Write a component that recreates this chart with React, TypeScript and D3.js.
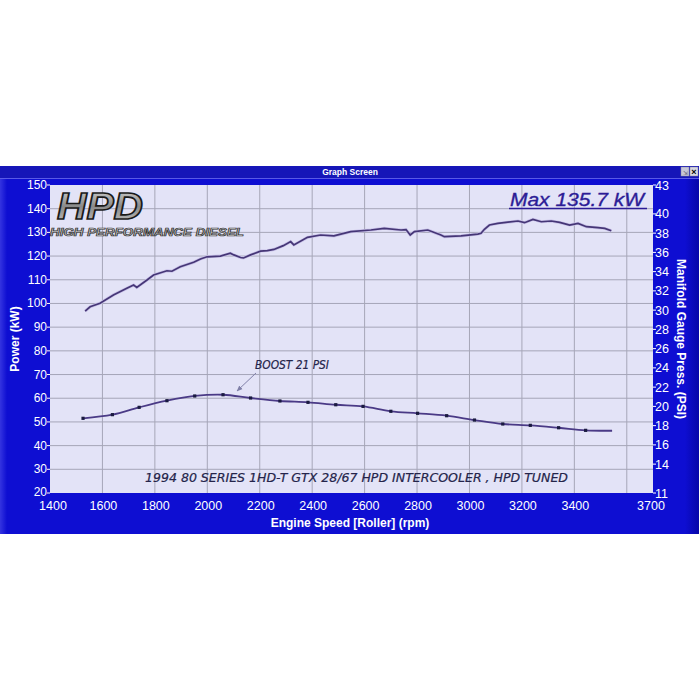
import React from "react";
import * as d3 from "d3";

// Engine speed ticks
const xTicks = [1400, 1600, 1800, 2000, 2200, 2400, 2600, 2800, 3000, 3200, 3400, 3700];
const xGrid = [1600, 1800, 2000, 2200, 2400, 2600, 2800, 3000, 3200, 3400, 3600];
const powerTicks = [20, 30, 40, 50, 60, 70, 80, 90, 100, 110, 120, 130, 140, 150];
const psiTicks = [11, 14, 16, 18, 20, 22, 24, 26, 28, 30, 32, 34, 36, 38, 40, 43];

// Power curve (rpm, kW)
const powerRpm = [1534, 1553, 1591, 1642, 1693, 1719, 1731, 1770, 1795, 1846, 1865, 1897, 1948, 1974, 1999, 2050, 2088, 2101, 2127, 2138, 2165, 2203, 2229, 2254, 2290, 2318, 2330, 2382, 2432, 2483, 2547, 2624, 2675, 2739, 2758, 2774, 2790, 2841, 2891, 2904, 2968, 3032, 3044, 3057, 3076, 3108, 3185, 3210, 3242, 3274, 3312, 3344, 3382, 3414, 3446, 3490, 3516, 3541];
const powerKw = [96.8, 98.6, 100.1, 103.6, 106.4, 107.8, 106.8, 109.9, 112.0, 113.8, 113.6, 115.5, 117.4, 118.8, 119.7, 120.0, 121.2, 120.5, 119.4, 119.2, 120.5, 122.1, 122.3, 122.8, 124.4, 126.1, 124.7, 127.9, 128.9, 128.5, 130.3, 131.0, 131.7, 131.0, 131.2, 128.9, 130.3, 131.0, 128.9, 128.2, 128.5, 129.3, 129.6, 131.3, 133.1, 133.8, 134.8, 134.1, 135.5, 134.5, 134.8, 134.2, 133.1, 133.8, 132.4, 132.0, 131.7, 130.7];

// Boost curve (rpm, PSI)
const boostRpm = [1526, 1638, 1740, 1846, 1952, 2060, 2165, 2277, 2384, 2490, 2594, 2700, 2802, 2913, 3019, 3127, 3232, 3340, 3443, 3544];
const boostPsi = [18.76, 19.14, 19.9, 20.59, 21.08, 21.21, 20.87, 20.56, 20.42, 20.17, 20.0, 19.49, 19.28, 19.03, 18.58, 18.17, 18.03, 17.78, 17.51, 17.47];

const PL = 50, PR = 653, PT = 185, PB = 493;

export default function App() {
  const x = d3.scaleLinear().domain([1400, 3700]).range([PL, PR]);
  const yP = d3.scaleLinear().domain([20, 150]).range([PB, PT]);
  const yB = d3.scaleLinear().domain([11, 43]).range([PB, PT]);

  const powerLine = d3.line<number>().x((_, i) => x(powerRpm[i])).y((d) => yP(d)).curve(d3.curveLinear);
  const boostLine = d3.line<number>().x((_, i) => x(boostRpm[i])).y((d) => yB(d)).curve(d3.curveCatmullRom);

  const sans = "'Liberation Sans', Arial, sans-serif";
  const verd = "'DejaVu Sans', Verdana, sans-serif";

  return (
    <svg width={700} height={700} style={{ position: "absolute", left: 0, top: 0, background: "#fff" }}>
      <defs>
        <linearGradient id="frameG" x1="0" x2="1" y1="0" y2="0">
          <stop offset="0" stopColor="#3434e0" />
          <stop offset="0.01" stopColor="#0e0ed2" />
          <stop offset="0.98" stopColor="#0e0ed2" />
          <stop offset="1" stopColor="#0606a8" />
        </linearGradient>
        <linearGradient id="logoG" x1="0" x2="0" y1="0" y2="1">
          <stop offset="0" stopColor="#d8d8d8" />
          <stop offset="0.5" stopColor="#8a8a8a" />
          <stop offset="1" stopColor="#c8c8c8" />
        </linearGradient>
        <marker id="arr" viewBox="0 0 10 10" refX="9" refY="5" markerWidth="6" markerHeight="6" orient="auto">
          <path d="M0,1 L10,5 L0,9 z" fill="#8080a8" />
        </marker>
      </defs>
      {/* window frame */}
      <rect x={0} y={166} width={699} height={368} fill="url(#frameG)" />
      <rect x={0} y={166} width={699} height={12} fill="#1616b8" />
      <line x1={0} x2={699} y1={178.5} y2={178.5} stroke="#5a5ae6" strokeWidth={1} />
      <text x={350} y={175} textAnchor="middle" fill="#fff" fontFamily={sans} fontWeight="bold" fontSize={8.5}>Graph Screen</text>
      <rect x={681} y={167} width={8} height={9} fill="#c8c8d8" stroke="#8888a0" strokeWidth={0.5} />
      <rect x={690} y={167} width={8} height={9} fill="#d8d8e0" stroke="#8888a0" strokeWidth={0.5} />
      <text x={694} y={175} textAnchor="middle" fill="#000" fontFamily={sans} fontWeight="bold" fontSize={9}>×</text>
      <text x={685} y={174.5} textAnchor="middle" fill="#667" fontFamily={sans} fontSize={6}>⇲</text>

      {/* plot area */}
      <rect x={PL} y={PT} width={PR - PL} height={PB - PT} fill="#e3e3f7" />
      {powerTicks.slice(1, -1).map((t) => (
        <line key={"h" + t} x1={PL} x2={PR} y1={yP(t)} y2={yP(t)} stroke="#a6a6b8" strokeWidth={1} />
      ))}
      {xGrid.map((t) => (
        <line key={"v" + t} x1={x(t)} x2={x(t)} y1={PT} y2={PB} stroke="#a6a6b8" strokeWidth={1} />
      ))}

      {/* HPD logo */}
      <text x={57} y={219} fontFamily={sans} fontStyle="italic" fontWeight="bold" fontSize={36} fill="url(#logoG)" stroke="#1a1a1a" strokeWidth={1.6} textLength={86} lengthAdjust="spacingAndGlyphs">HPD</text>
      <text x={50} y={236} fontFamily={sans} fontStyle="italic" fontWeight="bold" fontSize={10} fill="#c8c8c8" stroke="#333" strokeWidth={0.7} textLength={194} lengthAdjust="spacingAndGlyphs">HIGH PERFORMANCE DIESEL</text>

      {/* Max label */}
      <text x={510} y={206} fontFamily={sans} fontStyle="italic" fontSize={19} fill="#2c1c96" stroke="#2c1c96" strokeWidth={0.35} textLength={134} lengthAdjust="spacingAndGlyphs">Max 135.7 kW</text>
      <line x1={509} x2={647} y1={208.5} y2={208.5} stroke="#2c1c96" strokeWidth={1.5} />

      {/* curves */}
      <path d={powerLine(powerKw) || ""} fill="none" stroke="#c8c0e8" strokeWidth={3} />
      <path d={powerLine(powerKw) || ""} fill="none" stroke="#453676" strokeWidth={1.7} />
      <path d={boostLine(boostPsi) || ""} fill="none" stroke="#4a3a86" strokeWidth={1.8} />
      {boostPsi.slice(0, -1).map((p, i) => (
        <rect key={"m" + i} x={x(boostRpm[i]) - 1.6} y={yB(p) - 1.6} width={3.2} height={3.2} fill="#1a1a40" />
      ))}

      {/* annotations */}
      <text x={255} y={369} fontFamily={verd} fontStyle="italic" fontSize={12} fill="#24244a" stroke="#24244a" strokeWidth={0.2} textLength={74} lengthAdjust="spacingAndGlyphs">BOOST 21 PSI</text>
      <line x1={256} x2={237} y1={373} y2={391} stroke="#8080a8" strokeWidth={1} markerEnd="url(#arr)" />
      <text x={145} y={482} fontFamily={verd} fontStyle="italic" fontSize={12} fill="#24244a" stroke="#24244a" strokeWidth={0.2} textLength={423} lengthAdjust="spacingAndGlyphs">1994 80 SERIES 1HD-T GTX 28/67 HPD INTERCOOLER , HPD TUNED</text>

      {/* left axis */}
      {powerTicks.map((t) => (
        <g key={"l" + t}>
          <line x1={PL - 3} x2={PL} y1={yP(t)} y2={yP(t)} stroke="#fff" strokeWidth={1} />
          <text x={PL - 3} y={yP(t) + (t === 20 ? 2.5 : 4)} textAnchor="end" fill="#fff" fontFamily={sans} fontSize={12}>{t}</text>
        </g>
      ))}
      <text transform={`translate(19,${(PT + PB) / 2}) rotate(-90)`} textAnchor="middle" fill="#fff" fontFamily={sans} fontWeight="bold" fontSize={12}>Power (kW)</text>

      {/* right axis */}
      {psiTicks.map((t) => (
        <g key={"r" + t}>
          <line x1={PR} x2={PR + 3} y1={yB(t)} y2={yB(t)} stroke="#fff" strokeWidth={1} />
          <text x={PR + 2} y={yB(t) + 4.5} textAnchor="start" fill="#fff" fontFamily={sans} fontSize={12.5}>{t}</text>
        </g>
      ))}
      <text transform={`translate(677,${(PT + PB) / 2}) rotate(90)`} textAnchor="middle" fill="#fff" fontFamily={sans} fontWeight="bold" fontSize={12}>Manifold Gauge Press. (PSI)</text>

      {/* x axis */}
      {xTicks.map((t) => (
        <text key={"x" + t} x={x(t) + (t === 3700 ? -2 : t === 1400 ? 3 : 1)} y={510} textAnchor="middle" fill="#fff" fontFamily={sans} fontSize={12.5}>{t}</text>
      ))}
      <text x={350} y={527} textAnchor="middle" fill="#fff" fontFamily={sans} fontWeight="bold" fontSize={12}>Engine Speed [Roller] (rpm)</text>
    </svg>
  );
}
